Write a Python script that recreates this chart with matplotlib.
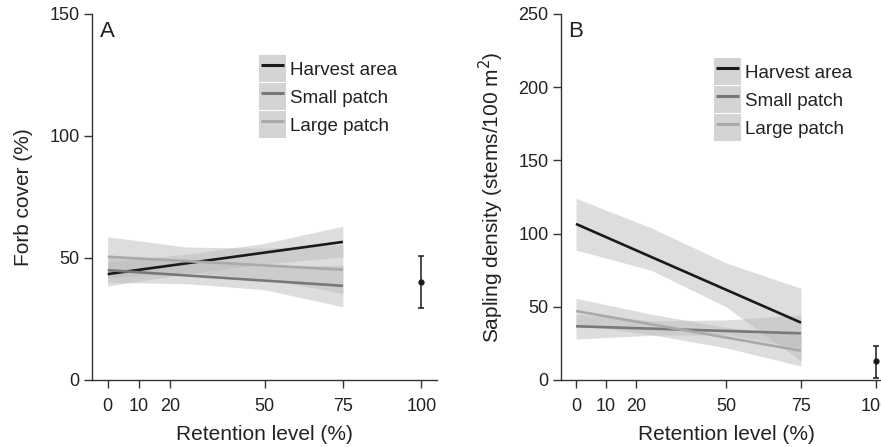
import numpy as np
import matplotlib
matplotlib.use("Agg")
import matplotlib.pyplot as plt
from matplotlib.patches import Patch
from matplotlib.lines import Line2D
from matplotlib.legend_handler import HandlerTuple, HandlerLine2D

plt.rcParams['font.family'] = ['Liberation Sans', 'DejaVu Sans']
plt.rcParams['text.color'] = '#222222'
plt.rcParams['axes.labelcolor'] = '#222222'
plt.rcParams['xtick.color'] = '#333333'
plt.rcParams['ytick.color'] = '#333333'
plt.rcParams['xtick.labelcolor'] = '#222222'
plt.rcParams['ytick.labelcolor'] = '#222222'

series = ["Harvest area", "Small patch", "Large patch"]
line_colors = ["#1a1a1a", "#787878", "#a9a9a9"]

# fitted lines (x = 0 and 75) and confidence bands read at x = 0, 25, 50, 75
x_fit = [0, 75]
x_band = [0, 25, 50, 75]

# panel A: forb cover
forb_fit = {"Harvest area": [43.4, 56.6],
            "Small patch": [45.0, 38.6],
            "Large patch": [50.5, 45.2]}
forb_lo = {"Harvest area": [38.5, 43.5, 47.5, 50.5],
           "Small patch": [40.0, 39.5, 37.0, 30.0],
           "Large patch": [42.0, 44.0, 41.5, 35.5]}
forb_hi = {"Harvest area": [48.5, 51.5, 56.0, 63.0],
           "Small patch": [51.0, 48.5, 46.5, 47.0],
           "Large patch": [58.7, 54.5, 54.0, 55.5]}
forb_ref = 40.3
forb_ref_lo, forb_ref_hi = 29.4, 50.8

# panel B: sapling density
sap_fit = {"Harvest area": [106.6, 39.2],
           "Small patch": [36.7, 31.9],
           "Large patch": [47.1, 20.0]}
sap_lo = {"Harvest area": [88.8, 75.0, 50.0, 13.0],
          "Small patch": [28.0, 30.5, 31.0, 22.0],
          "Large patch": [38.0, 31.0, 22.0, 9.5]}
sap_hi = {"Harvest area": [124.1, 104.0, 80.0, 62.6],
          "Small patch": [45.0, 40.5, 41.0, 44.5],
          "Large patch": [55.8, 45.0, 36.0, 30.5]}
sap_ref = 12.8
sap_ref_lo, sap_ref_hi = 1.6, 23.2

xticks = [0, 10, 20, 50, 75, 100]

fig = plt.figure(figsize=(8.81, 4.47), dpi=100)
axA = fig.add_axes([92/881, 67/447, 345/881, 366/447])
axB = fig.add_axes([561/881, 67/447, 330/881, 366/447])


def draw(ax, fit, lo, hi, ref, ref_lo, ref_hi, ymax, ystep, ylabel, letter,
         leg_xy, ylpad):
    for s in series:
        ax.fill_between(x_band, lo[s], hi[s], color="#bcbcbc", alpha=0.5,
                        linewidth=0)
    for s, c in zip(series, line_colors):
        ax.plot(x_fit, fit[s], color=c, lw=1.9, solid_capstyle='butt')
    ax.errorbar([100], [ref], yerr=[[ref - ref_lo], [ref_hi - ref]],
                fmt='o', color='#1a1a1a', ms=3.5, capsize=2.5, elinewidth=1.1,
                capthick=1.1)
    ax.set_xlim(-5, 105)
    ax.set_ylim(0, ymax)
    ax.set_xticks(xticks)
    ax.set_yticks(np.arange(0, ymax + 1, ystep))
    for sp in ["top", "right"]:
        ax.spines[sp].set_visible(False)
    for sp in ["left", "bottom"]:
        ax.spines[sp].set_color('#333333')
        ax.spines[sp].set_linewidth(1.0)
    ax.tick_params(axis='x', length=6, width=1.0, pad=7, labelsize=13)
    ax.tick_params(axis='y', length=6, width=1.0, pad=3, labelsize=13)
    ax.set_xlabel("Retention level (%)", fontsize=15, labelpad=7)
    ax.set_ylabel(ylabel, fontsize=15, labelpad=ylpad)
    ax.text(0.022, 0.98, letter, transform=ax.transAxes, fontsize=16,
            va='top', ha='left')
    handles = [(Patch(facecolor="#d4d4d4", edgecolor='none'),
                Line2D([], [], color=c, lw=2.2, solid_capstyle='butt'))
               for c in line_colors]
    ax.legend(handles, series, loc='upper left',
              bbox_to_anchor=(leg_xy[0] / 881, 1 - leg_xy[1] / 447),
              bbox_transform=fig.transFigure, frameon=False, fontsize=13.5,
              handler_map={tuple: HandlerTuple(ndivide=1, pad=0),
                           Line2D: HandlerLine2D(marker_pad=0.12,
                                                 numpoints=2)},
              handlelength=1.45, handleheight=1.84, labelspacing=0.055,
              handletextpad=0.22, borderpad=0, borderaxespad=0)


draw(axA, forb_fit, forb_lo, forb_hi, forb_ref, forb_ref_lo, forb_ref_hi,
     150, 50, "Forb cover (%)", "A", (259, 55), 12)
draw(axB, sap_fit, sap_lo, sap_hi, sap_ref, sap_ref_lo, sap_ref_hi,
     250, 50, "Sapling density (stems/100 m$^2$)", "B", (714, 58), 9)

fig.savefig("out.png", dpi=100)
